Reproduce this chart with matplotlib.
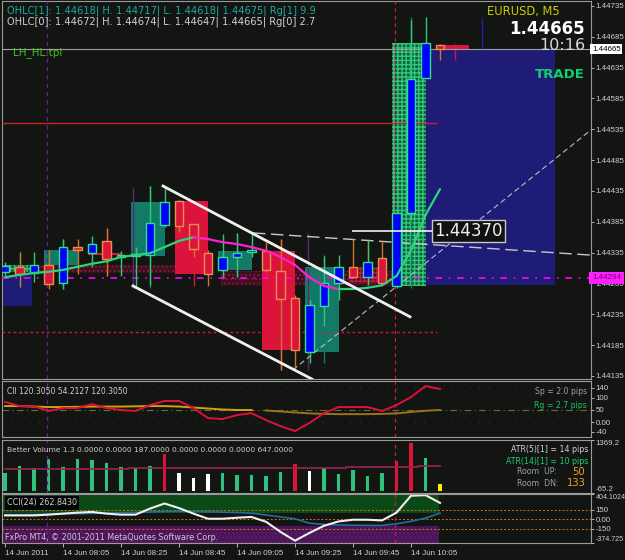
import numpy as np
import matplotlib.pyplot as plt

W, H = 625, 560
BG = '#121512'
GRID = '#9a9a9a'

# ---- M5 bars, 14 Jun 2011 07:45 .. 10:15 ----
opens = [1.44304, 1.44312, 1.44302, 1.44315, 1.44286, 1.44344, 1.44334, 1.44354,
         1.44328, 1.44330, 1.44331, 1.44380, 1.44419, 1.44381, 1.44334, 1.44307,
         1.44328, 1.44336, 1.44338, 1.44305, 1.44261, 1.44174, 1.44248, 1.44286,
         1.44312, 1.44295, 1.44326, 1.44281, 1.44399, 1.44618, 1.44672]
highs = [1.44320, 1.44336, 1.44336, 1.44339, 1.44357, 1.44357, 1.44362, 1.44375,
         1.44338, 1.44344, 1.44443, 1.44441, 1.44420, 1.44381, 1.44339, 1.44365,
         1.44367, 1.44367, 1.44352, 1.44357, 1.44266, 1.44258, 1.44330, 1.44331,
         1.44357, 1.44355, 1.44354, 1.44404, 1.44712, 1.44717, 1.44674]
lows = [1.44297, 1.44279, 1.44287, 1.44276, 1.44276, 1.44300, 1.44312, 1.44297,
        1.44297, 1.44278, 1.44282, 1.44377, 1.44368, 1.44328, 1.44281, 1.44295,
        1.44295, 1.44328, 1.44304, 1.44145, 1.44148, 1.44156, 1.44216, 1.44258,
        1.44294, 1.44282, 1.44282, 1.44278, 1.44388, 1.44618, 1.44647]
closes = [1.44313, 1.44300, 1.44315, 1.44284, 1.44344, 1.44339, 1.44349, 1.44325,
          1.44331, 1.44331, 1.44383, 1.44417, 1.44378, 1.44341, 1.44300, 1.44328,
          1.44334, 1.44338, 1.44307, 1.44260, 1.44177, 1.44250, 1.44286, 1.44312,
          1.44295, 1.44320, 1.44286, 1.44399, 1.44617, 1.44675, 1.44665]
ma_line = [1.44295, 1.44299, 1.44302, 1.44304, 1.44307, 1.44312, 1.44317, 1.44321,
           1.44328, 1.44331, 1.44334, 1.44344, 1.44354, 1.44360, 1.44357, 1.44352,
           1.44349, 1.44344, 1.44338, 1.44328, 1.44315, 1.44295, 1.44281, 1.44276,
           1.44276, 1.44278, 1.44282, 1.44297, 1.44339, 1.44396, 1.44438]

cii_fast = [83, 66, 66, 46, 58, 58, 74, 58, 50, 46, 70, 87, 87, 58, 17, 13,
            29, 37, 9, -16, -36, -3, 37, 62, 62, 62, 46, 70, 103, 148, 136]
cii_slow = [66, 66, 64, 62, 62, 63, 64, 64, 64, 65, 66, 66, 64, 60, 56, 52,
            50, 50, 48, 44, 40, 36, 34, 33, 33, 33, 34, 36, 42, 47, 50]

volume = [483, 664, 618, 861, 637, 845, 826, 753, 637, 618, 664, 980, 467, 348,
          440, 483, 413, 413, 394, 502, 710, 529, 602, 440, 556, 394, 467, 799,
          1277, 872, 187]
vol_kind = ['g'] * 11 + ['r'] + ['w'] * 3 + ['g'] * 5 + ['r', 'w'] + ['g'] * 5 + ['r', 'r', 'g', 'y']
vol_ma = [575] * 3 + [595] * 6 + [620] * 15 + [645] * 5 + [660] * 2

cci_main = [64, 64, 64, 76, 92, 108, 119, 92, 76, 76, 172, 253, 180, 92, 11, 11,
            27, 39, -37, -198, -338, -214, -101, -32, -5, -5, -16, 108, 377, 386, 263]
cci_signal = [76, 76, 80, 84, 88, 92, 96, 100, 106, 110, 118, 125, 128, 125, 120, 115,
              110, 100, 70, 40, 10, -60, -80, -88, -92, -95, -96, -70, -30, 20, 100]

price_ticks = [1.44735, 1.44685, 1.44635, 1.44585, 1.44535, 1.44485, 1.44435,
               1.44385, 1.44335, 1.44285, 1.44235, 1.44185, 1.44135]
time_labels = ['14 Jun 2011', '14 Jun 08:05', '14 Jun 08:25', '14 Jun 08:45',
               '14 Jun 09:05', '14 Jun 09:25', '14 Jun 09:45', '14 Jun 10:05']
time_label_bars = [0, 4, 8, 12, 16, 20, 24, 28]

plt.rcParams['font.family'] = ['DejaVu Sans']
fig = plt.figure(figsize=(W / 100, H / 100), dpi=100, facecolor=BG)

AXFONT = 'Liberation Sans'


def rect(x0, y0, x1, y1):
    return [x0 / W, 1 - y1 / H, (x1 - x0) / W, (y1 - y0) / H]


def ftext(x, y, s, **kw):
    kw.setdefault('va', 'center')
    fig.text(x / W, 1 - y / H, s, **kw)


XLIM = ((2 - 5) / 14.5, (591 - 5) / 14.5)


def style(ax):
    ax.set_facecolor(BG)
    ax.set_xlim(*XLIM)
    for s in ax.spines.values():
        s.set_color(GRID)
        s.set_linewidth(0.8)
    ax.set_xticks([])
    ax.yaxis.tick_right()
    ax.tick_params(axis='y', colors='#cfcfcf', labelsize=5.7, length=2, pad=1.5, width=0.6)


def axis_font(ax):
    for t in ax.get_yticklabels() + ax.get_xticklabels():
        t.set_fontfamily(AXFONT)


n = len(opens)
x = np.arange(n)
o, h, l, c = map(np.array, (opens, highs, lows, closes))
bull = c >= o

# ---------------- main price pane ----------------
ax = fig.add_axes(rect(2, 1, 591, 379))
style(ax)
ax.set_ylim(1.441301, 1.447431)
ax.set_yticks(price_ticks)
ax.set_yticklabels(['%.5f' % p for p in price_ticks])
axis_font(ax)

# navy boxes
ax.bar(28.9, 1.44665 - 1.44282, width=37.9 - 28.9, bottom=1.44282, align='edge',
       color='#1f1c78', zorder=1)
ax.bar(-0.14, 1.44299 - 1.44248, width=2.0, bottom=1.44248, align='edge',
       color='#1f1c78', zorder=1)

# maroon zones
ax.bar(-0.14, 1.44315 - 1.44302, width=13.8, bottom=1.44302, align='edge',
       color='#3a0f1e', hatch='....', edgecolor='#7a2038', linewidth=0, zorder=2)
ax.bar(14.9, 1.44305 - 1.44281, width=12.0, bottom=1.44281, align='edge',
       color='#3a0f1e', hatch='....', edgecolor='#7a2038', linewidth=0, zorder=2)

# M15 boxes built from groups of three bars
hatched = {0, 8, 9}
for g in range(0, n, 3):
    idx = list(range(g, min(g + 3, n)))
    bo, bc = o[idx[0]], c[idx[-1]]
    bh, bl = h[idx].max(), l[idx].min()
    up = bc >= bo
    col = '#147a68' if up else '#dc143c'
    last = g + 2
    kw = dict(width=last - g + 0.3, bottom=min(bo, bc), align='edge', zorder=3)
    if (g // 3) in hatched:
        face = '#0f5c44' if up else '#4a1020'
        hc = '#33c878' if up else '#c01838'
        ax.bar(g - 0.3, max(abs(bc - bo), 0.00003), color=face, hatch='++++',
               edgecolor=hc, linewidth=0, **kw)
    else:
        ax.bar(g - 0.3, max(abs(bc - bo), 0.00003), color=col, linewidth=0, **kw)
    ax.vlines(g + 1, bl, bh, color=col, lw=1, zorder=3)

# horizontal levels
ax.hlines(1.44545, XLIM[0], 29.8, color='#c8202a', lw=1, zorder=4)
ax.hlines(1.44206, XLIM[0], 29.8, color='#dc143c', lw=1, linestyles=(0, (2, 2)), zorder=4)
ax.axhline(1.44294, color='#ff00ff', lw=1.2, ls=(0, (4, 4, 1, 4)), zorder=4)
ax.axhline(1.44665, color='#a0a0a0', lw=0.8, zorder=4)

# vertical markers
ax.axvline(2.9, color='#6a1b9a', lw=1, ls=(0, (3, 3)), zorder=4)
ax.axvline(26.9, color='#dc143c', lw=0.9, ls=(0, (3, 3)), zorder=4)
ax.vlines(8.83, 1.44278, 1.44441, color='#5e2a6e', lw=1, zorder=4)
ax.vlines(20.9, 1.44145, 1.44367, color='#5e2a6e', lw=1, zorder=4)
ax.vlines(32.9, 1.44665, 1.44715, color='#2020a8', lw=1, zorder=4)

# gray dashed trend lines
ax.plot([19.86, 40.41], [1.44145, 1.44534], color='#bdbdbd', lw=0.8,
        ls=(0, (5, 3)), zorder=5)
ax.plot([17.1, 40.41], [1.44367, 1.44331], color='#c8c8c8', lw=1,
        ls=(0, (9, 4)), zorder=5)

# candles
ax.vlines(x[bull], l[bull], h[bull], color='#2ecc71', lw=1, zorder=6)
ax.vlines(x[~bull], l[~bull], h[~bull], color='#c8782a', lw=1, zorder=6)
body = np.maximum(np.abs(c - o), 0.00003)
ax.bar(x[bull], body[bull], width=0.62, bottom=np.minimum(o, c)[bull],
       color='#0000ff', edgecolor='#2ee08a', linewidth=1, zorder=7)
ax.bar(x[~bull], body[~bull], width=0.62, bottom=np.minimum(o, c)[~bull],
       color='#dc143c', edgecolor='#e8904a', linewidth=1, zorder=7)

# moving average: green rising, magenta falling
ma = np.array(ma_line)
for i in range(n - 1):
    col = '#2ed47a' if ma[i + 1] >= ma[i] else '#ff20d0'
    ax.plot(x[i:i + 2], ma[i:i + 2], color=col, lw=1.6, zorder=8,
            solid_capstyle='round')

# channel
ax.plot([10.9, 27.93], [1.44443, 1.44231], color='#f0f0f0', lw=2, zorder=9)
ax.plot([8.83, 21.17], [1.44281, 1.44130], color='#f0f0f0', lw=2, zorder=9)

# 1.44370 label
ax.hlines(1.44370, 23.9, 29.6, color='#f0f0f0', lw=1.2, zorder=9)
ax.text(31.95, 1.44370, '1.44370', color='#f0f0f0', fontsize=12, ha='center',
        va='center', zorder=10,
        bbox=dict(boxstyle='square,pad=0.12', fc='#111111', ec='#c8c8c8', lw=1))

# price boxes on axis
ax.text(1.0015, 1.44665, '1.44665', transform=ax.get_yaxis_transform(), fontsize=5.7,
        family=AXFONT, color='#000000', va='center', ha='left', zorder=11, clip_on=False,
        bbox=dict(boxstyle='square,pad=0.2', fc='#ffffff', ec='none'))
ax.text(1.0015, 1.44294, '1.44294', transform=ax.get_yaxis_transform(), fontsize=5.7,
        family=AXFONT, color='#6a006a', va='center', ha='left', zorder=11, clip_on=False,
        bbox=dict(boxstyle='square,pad=0.35', fc='#ff20ff', ec='none'))

# ---------------- CII pane ----------------
ax1 = fig.add_axes(rect(2, 381, 591, 437))
style(ax1)
ax1.set_ylim(-60.5, 168.6)
ax1.set_yticks([140, 100, 50, 0, -40])
ax1.set_yticklabels(['140', '100', '50', '0.00', '-40'])
axis_font(ax1)
ax1.axhline(50, color='#6b6b3a', lw=0.8, ls=(0, (6, 3, 1, 3)))
for lv in (140, 0):
    ax1.axhline(lv, color='#4a4a4a', lw=0.6, ls=(0, (1, 10)))
ax1.axvline(2.9, color='#6a1b9a', lw=1, ls=(0, (3, 3)))
ax1.axvline(26.9, color='#dc143c', lw=0.9, ls=(0, (3, 3)))
ax1.plot(x[:18], cii_slow[:18], color='#d4a00c', lw=1.4)
ax1.plot(x[18:], cii_slow[18:], color='#9a7418', lw=1.4)
ax1.plot(x, cii_fast, color='#e0103c', lw=1.4)

# ---------------- volume pane ----------------
ax2 = fig.add_axes(rect(2, 440, 591, 493))
style(ax2)
ax2.set_ylim(-65.2, 1369.2)
ax2.set_yticks([1369.2, -65.2])
ax2.set_yticklabels(['1369.2', '-65.2'])
axis_font(ax2)
ax2.get_yticklabels()[0].set_va('top')
ax2.get_yticklabels()[1].set_va('bottom')
vcol = {'g': '#2ec27e', 'r': '#dc143c', 'w': '#ffffff', 'y': '#ffee00'}
ax2.bar(x, volume, width=0.24, color=[vcol[k] for k in vol_kind], bottom=0)
ax2.step(x, vol_ma, where='mid', color='#9b2252', lw=1.2)
ax2.axvline(2.9, color='#6a1b9a', lw=1, ls=(0, (3, 3)))
ax2.axvline(26.9, color='#dc143c', lw=0.9, ls=(0, (3, 3)))

# ---------------- CCI pane ----------------
ax3 = fig.add_axes(rect(2, 494, 591, 543))
style(ax3)
ax3.set_ylim(-374.725, 404.1024)
ax3.set_yticks([404.1024, 150, 0, -150, -374.725])
ax3.set_yticklabels(['404.1024', '150', '0.00', '-150', '-374.725'])
ax3.get_yticklabels()[0].set_va('top')
ax3.get_yticklabels()[-1].set_va('bottom')
ax3.fill_between([XLIM[0], 29.9], 100, 404.1, color='#0b4a16', lw=0)
ax3.fill_between([XLIM[0], 29.9], -374.7, -100, color='#4c1458', hatch='....',
                 edgecolor='#5e1f6c', lw=0)
for lv in (150, 0, -150):
    ax3.axhline(lv, color='#c87818', lw=0.7, ls=(0, (2, 2)))
ax3.axvline(2.9, color='#6a1b9a', lw=1, ls=(0, (3, 3)))
ax3.axvline(26.9, color='#dc143c', lw=0.9, ls=(0, (3, 3)))
ax3.plot(x, cci_signal, color='#1f6f9f', lw=1.2)
ax3.plot(x, cci_main, color='#f0f0f0', lw=1.5)
ax3.set_xticks(time_label_bars)
ax3.set_xticklabels(time_labels)
ax3.tick_params(axis='x', colors='#cfcfcf', labelsize=5.8, length=3, pad=2, width=0.6)
axis_font(ax3)
for t in ax3.get_xticklabels():
    t.set_ha('left')
for t in (ax3.get_yticklabels()[0], ax3.get_yticklabels()[-1]):
    t.set_fontsize(5.1)

# ---------------- texts ----------------
ftext(7, 11, 'OHLC[1]: 1.44618| H. 1.44717| L. 1.44618| 1.44675| Rg[1] 9.9',
      color='#20a8a0', fontsize=7.1)
ftext(7, 22, 'OHLC[0]: 1.44672| H. 1.44674| L. 1.44647| 1.44665| Rg[0] 2.7',
      color='#d0d0d0', fontsize=7.1)
ftext(13, 53, 'LH_HL.tpl', color='#40c020', fontsize=7.5)
ftext(487, 11, 'EURUSD, M5', color='#cccc00', fontsize=8.3)
ftext(585, 29, '1.44665', color='#ffffff', fontsize=12, fontweight='bold', ha='right')
ftext(585, 46, '10:16', color='#d8d8d8', fontsize=11.5, ha='right')
ftext(585, 74, 'TRADE', color='#10d070', fontsize=9.5, fontweight='bold', ha='right')

ftext(7, 392, 'CII 120.3050 54.2127 120.3050', color='#d0d0d0', fontsize=5.5)
ftext(587, 392, 'Sp = 2.0 pips', color='#a0a0a0', fontsize=5.6, ha='right')
ftext(587, 406, 'Rg = 2.7 pips', color='#20c060', fontsize=5.6, ha='right')

ftext(7, 450, 'Better Volume 1.3 0.0000 0.0000 187.0000 0.0000 0.0000 0.0000 647.0000',
      color='#d0d0d0', fontsize=5.4)
ftext(588, 449, 'ATR(5)[1] = 14 pips', color='#d0d0d0', fontsize=5.7, ha='right')
ftext(588, 461, 'ATR(14)[1] = 10 pips', color='#20d070', fontsize=5.7, ha='right')
ftext(517, 472, 'Room  UP:', color='#a0a0a0', fontsize=5.7)
ftext(572, 472, '50', color='#f0a020', fontsize=7.2)
ftext(517, 483, 'Room  DN:', color='#a0a0a0', fontsize=5.7)
ftext(567, 483, '133', color='#f0a020', fontsize=7.2)

ftext(7, 503, 'CCI(24) 262.8430', color='#d0d0d0', fontsize=5.8,
      bbox=dict(boxstyle='square,pad=0.3', fc='#050505', ec='none'))
ftext(5, 537, 'FxPro MT4, © 2001-2011 MetaQuotes Software Corp.', color='#c8c8c8',
      fontsize=5.8)

fig.savefig('out.png', dpi=100, facecolor=BG)
